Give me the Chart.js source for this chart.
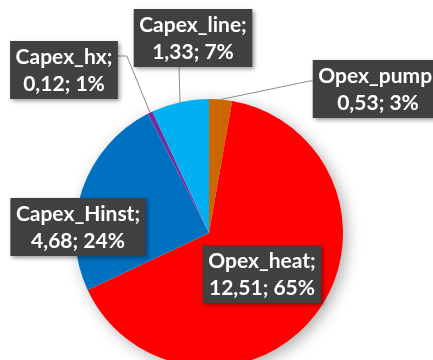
<!DOCTYPE html>
<html>
<head>
<meta charset="utf-8">
<script src="https://cdn.jsdelivr.net/npm/chart.js@4"></script>
<style>
  html, body { margin: 0; padding: 0; background: #fff; overflow: hidden; }
  #wrap { width: 470px; height: 390px; }
</style>
</head>
<body>
<div id="wrap"><canvas id="pie" width="470" height="390"></canvas></div>
<script>
"use strict";
// cost breakdown
const categories = ['Opex_pump', 'Opex_heat', 'Capex_Hinst', 'Capex_hx', 'Capex_line'];
const costs = [0.53, 12.51, 4.68, 0.12, 1.33];
const sliceColors = ['#CC6600', '#FF0000', '#0070C0', '#7030A0', '#00B0F0'];

// label box placement, relative to the pie centre
const labelBoxes = [
  { dx: 169, dy: -144, leader: 'left' },
  { dx: 53, dy: 41, leader: null },
  { dx: -131, dy: -6, leader: null },
  { dx: -145, dy: -163, leader: 'hx' },
  { dx: -16, dy: -195, leader: 'down' }
];

const total = costs.reduce((a, b) => a + b, 0);

function fmtValue(v) {
  return v.toFixed(2).replace('.', ',');
}

function makeDotPattern(ctx) {
  const c = document.createElement('canvas');
  c.width = 4; c.height = 4;
  const p = c.getContext('2d');
  p.fillStyle = '#3f3f3f';
  p.fillRect(0, 0, 4, 4);
  p.fillStyle = '#4b4b4b';
  p.fillRect(1, 1, 1, 1);
  p.fillRect(3, 3, 1, 1);
  return ctx.createPattern(c, 'repeat');
}

const pieShadow = {
  id: 'pieShadow',
  beforeDatasetsDraw(chart) {
    const arc = chart.getDatasetMeta(0).data[0];
    if (!arc) return;
    const ctx = chart.ctx;
    ctx.save();
    ctx.shadowColor = 'rgba(0,0,0,0.35)';
    ctx.shadowBlur = 16;
    ctx.shadowOffsetX = 4;
    ctx.shadowOffsetY = 4;
    ctx.fillStyle = '#fff';
    ctx.beginPath();
    ctx.arc(arc.x, arc.y, arc.outerRadius - 1, 0, Math.PI * 2);
    ctx.fill();
    ctx.restore();
  }
};

const calloutLabels = {
  id: 'calloutLabels',
  afterDatasetsDraw(chart) {
    const ctx = chart.ctx;
    const arcs = chart.getDatasetMeta(0).data;
    const pattern = makeDotPattern(ctx);
    ctx.save();
    ctx.font = 'bold 21px Lato';
    ctx.textAlign = 'center';
    ctx.textBaseline = 'middle';
    arcs.forEach((arc, i) => {
      const box = labelBoxes[i];
      const cx = arc.x + box.dx;
      const cy = arc.y + box.dy;
      const lines = [categories[i] + ';', fmtValue(costs[i]) + '; ' + Math.round(costs[i] / total * 100) + '%'];
      const w = Math.max(...lines.map(l => ctx.measureText(l).width)) + 11;
      const h = 58;
      const left = cx - w / 2, top = cy - h / 2;

      // leader line from the slice edge to the box
      const mid = (arc.startAngle + arc.endAngle) / 2;
      const ex = arc.x + Math.cos(mid) * arc.outerRadius;
      const ey = arc.y + Math.sin(mid) * arc.outerRadius;
      ctx.strokeStyle = '#8c8c8c';
      ctx.lineWidth = 1;
      if (box.leader === 'left') {
        ctx.beginPath();
        ctx.moveTo(left, top + 21);
        ctx.lineTo(left - 3, top + 21);
        ctx.lineTo(ex, ey);
        ctx.stroke();
      } else if (box.leader === 'down') {
        ctx.beginPath();
        ctx.moveTo(ex - 1, top + h);
        ctx.lineTo(ex, ey);
        ctx.stroke();
      } else if (box.leader === 'hx') {
        ctx.beginPath();
        ctx.moveTo(left + w, top + 15);
        ctx.lineTo(left + w + 9, top + 15);
        ctx.lineTo(ex, ey);
        ctx.stroke();
      }

      ctx.save();
      ctx.shadowColor = 'rgba(0,0,0,0.4)';
      ctx.shadowBlur = 4;
      ctx.shadowOffsetX = 2;
      ctx.shadowOffsetY = 2;
      ctx.fillStyle = pattern;
      ctx.fillRect(left, top, w, h);
      ctx.restore();

      ctx.fillStyle = '#ffffff';
      ctx.fillText(lines[0], cx, cy - 13);
      ctx.fillText(lines[1], cx, cy + 14);
    });
    ctx.restore();
  }
};

new Chart(document.getElementById('pie').getContext('2d'), {
  type: 'pie',
  data: {
    labels: categories,
    datasets: [{
      data: costs,
      backgroundColor: sliceColors,
      borderWidth: 0
    }]
  },
  options: {
    responsive: false,
    animation: false,
    layout: { padding: { left: 75, top: 99, right: 127, bottom: 23 } },
    plugins: {
      legend: { display: false },
      tooltip: { enabled: false }
    }
  },
  plugins: [pieShadow, calloutLabels]
});
</script>
</body>
</html>
